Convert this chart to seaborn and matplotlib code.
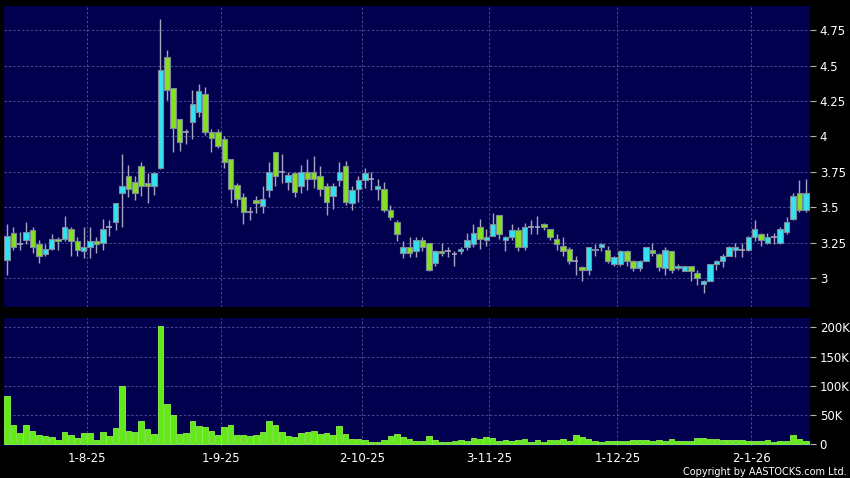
import numpy as np
import pandas as pd
import matplotlib
matplotlib.use("Agg")
import matplotlib.pyplot as plt
import seaborn as sns

# daily candles, mid-Jul 2025 to early Feb 2026
opens = [3.13, 3.32, 3.24, 3.27, 3.34, 3.24, 3.17, 3.21, 3.28, 3.28,
         3.35, 3.26, 3.19, 3.22, 3.26, 3.25, 3.36, 3.40, 3.60, 3.72,
         3.68, 3.79, 3.67, 3.65, 3.78, 4.56, 4.34, 4.12, 4.03, 4.10,
         4.17, 4.30, 4.03, 4.03, 3.98, 3.84, 3.66, 3.57, 3.47, 3.55,
         3.51, 3.62, 3.89, 3.75, 3.68, 3.74, 3.65, 3.75, 3.75, 3.72,
         3.65, 3.58, 3.69, 3.79, 3.53, 3.63, 3.69, 3.70, 3.63, 3.63,
         3.48, 3.40, 3.18, 3.22, 3.19, 3.27, 3.25, 3.11, 3.19, 3.19,
         3.17, 3.19, 3.22, 3.24, 3.36, 3.27, 3.30, 3.45, 3.27, 3.29,
         3.34, 3.22, 3.36, 3.36, 3.38, 3.35, 3.28, 3.23, 3.21, 3.12,
         3.08, 3.06, 3.20, 3.22, 3.20, 3.10, 3.10, 3.19, 3.12, 3.07,
         3.12, 3.20, 3.17, 3.07, 3.19, 3.07, 3.05, 3.09, 3.04, 2.96,
         2.98, 3.10, 3.12, 3.16, 3.20, 3.20, 3.20, 3.29, 3.31, 3.25,
         3.29, 3.25, 3.33, 3.42, 3.60, 3.48]
closes = [3.30, 3.22, 3.24, 3.33, 3.22, 3.16, 3.21, 3.28, 3.26, 3.36,
          3.26, 3.20, 3.22, 3.26, 3.24, 3.35, 3.36, 3.53, 3.65, 3.63,
          3.60, 3.65, 3.65, 3.74, 4.47, 4.33, 4.06, 3.96, 4.03, 4.23,
          4.32, 4.03, 3.99, 3.93, 3.82, 3.63, 3.56, 3.47, 3.47, 3.53,
          3.56, 3.75, 3.72, 3.75, 3.73, 3.61, 3.75, 3.70, 3.70, 3.63,
          3.54, 3.65, 3.75, 3.54, 3.62, 3.69, 3.74, 3.70, 3.65, 3.48,
          3.43, 3.31, 3.22, 3.18, 3.27, 3.22, 3.06, 3.19, 3.18, 3.19,
          3.17, 3.21, 3.27, 3.32, 3.28, 3.29, 3.38, 3.31, 3.29, 3.34,
          3.22, 3.36, 3.36, 3.36, 3.36, 3.29, 3.24, 3.19, 3.12, 3.12,
          3.06, 3.22, 3.21, 3.24, 3.12, 3.15, 3.19, 3.12, 3.07, 3.12,
          3.22, 3.18, 3.08, 3.20, 3.06, 3.09, 3.09, 3.05, 3.00, 2.98,
          3.10, 3.12, 3.16, 3.22, 3.22, 3.20, 3.29, 3.35, 3.27, 3.29,
          3.29, 3.35, 3.40, 3.58, 3.48, 3.60]
highs = [3.38, 3.36, 3.33, 3.40, 3.36, 3.27, 3.24, 3.31, 3.29, 3.44,
         3.36, 3.29, 3.36, 3.36, 3.29, 3.42, 3.41, 3.53, 3.88, 3.80,
         3.72, 3.82, 3.74, 3.75, 4.83, 4.61, 4.34, 4.12, 4.05, 4.33,
         4.37, 4.35, 4.05, 4.05, 4.00, 3.84, 3.67, 3.60, 3.50, 3.58,
         3.65, 3.82, 3.89, 3.88, 3.75, 3.75, 3.80, 3.84, 3.86, 3.79,
         3.67, 3.67, 3.82, 3.83, 3.65, 3.72, 3.78, 3.75, 3.70, 3.68,
         3.52, 3.41, 3.26, 3.29, 3.29, 3.29, 3.25, 3.20, 3.25, 3.22,
         3.19, 3.22, 3.32, 3.38, 3.42, 3.35, 3.46, 3.45, 3.30, 3.38,
         3.36, 3.39, 3.41, 3.44, 3.39, 3.35, 3.31, 3.29, 3.22, 3.16,
         3.09, 3.22, 3.24, 3.25, 3.23, 3.16, 3.20, 3.20, 3.13, 3.13,
         3.22, 3.25, 3.18, 3.22, 3.19, 3.10, 3.09, 3.09, 3.06, 2.99,
         3.10, 3.13, 3.17, 3.23, 3.25, 3.25, 3.30, 3.41, 3.32, 3.32,
         3.32, 3.36, 3.43, 3.60, 3.69, 3.70]
lows = [3.02, 3.20, 3.20, 3.24, 3.18, 3.11, 3.16, 3.20, 3.20, 3.26,
        3.16, 3.16, 3.14, 3.14, 3.18, 3.20, 3.30, 3.34, 3.36, 3.57,
        3.55, 3.58, 3.53, 3.59, 3.77, 4.26, 3.89, 3.90, 3.95, 3.98,
        4.14, 4.01, 3.89, 3.92, 3.78, 3.53, 3.51, 3.38, 3.41, 3.46,
        3.46, 3.57, 3.65, 3.67, 3.62, 3.57, 3.60, 3.62, 3.64, 3.58,
        3.45, 3.49, 3.65, 3.52, 3.48, 3.54, 3.64, 3.62, 3.55, 3.47,
        3.41, 3.26, 3.14, 3.15, 3.15, 3.19, 3.05, 3.09, 3.16, 3.15,
        3.09, 3.17, 3.20, 3.22, 3.21, 3.23, 3.30, 3.28, 3.19, 3.27,
        3.19, 3.20, 3.31, 3.31, 3.34, 3.27, 3.20, 3.16, 3.10, 3.02,
        2.98, 3.02, 3.16, 3.19, 3.11, 3.09, 3.09, 3.09, 3.05, 3.05,
        3.12, 3.16, 3.05, 3.02, 3.04, 3.06, 3.05, 2.98, 2.95, 2.90,
        2.98, 3.06, 3.08, 3.16, 3.15, 3.15, 3.19, 3.26, 3.23, 3.24,
        3.24, 3.24, 3.31, 3.41, 3.47, 3.47]
# volume in thousands of shares
volumes = [82.8, 32, 18.9, 33, 21.7, 16, 13.1, 12, 6.3, 21,
           16, 10.3, 18.9, 18.9, 7.4, 20.6, 13.1, 27.4, 98.9, 22.9,
           20.6, 38.9, 25.7, 17.7, 203, 69, 50.3, 17.1, 18.9, 38.9,
           30.3, 29.7, 21.7, 14.9, 29.1, 32, 14.9, 16, 13.1, 14.9,
           20, 38.9, 33, 20.6, 13.1, 12, 18.9, 20.6, 21.7, 17.7,
           18.9, 16, 30.3, 17.1, 8.6, 9.1, 6.3, 3.4, 4, 7.4,
           13.1, 17.1, 12, 9.1, 5.7, 4.6, 14.3, 6.9, 4, 4,
           4.6, 7.4, 5.7, 10.3, 9.1, 11.4, 10.3, 4.6, 6.3, 4.6,
           6.3, 9.1, 3.4, 6.3, 3.4, 6.3, 6.3, 8.6, 5.7, 14.9,
           12, 9.1, 4.6, 3.4, 4.6, 4.6, 4.6, 4.6, 6.3, 6.3,
           6.3, 4.6, 6.3, 4.6, 8, 4.6, 4.6, 4.6, 9.7, 9.7,
           8.6, 8, 6.9, 6.9, 7.4, 7.4, 5.7, 4.6, 5.7, 7.4,
           3.4, 5.7, 5.7, 14.9, 9.1, 5.7]

date_labels = ["1-8-25", "1-9-25", "2-10-25", "3-11-25", "1-12-25", "2-1-26"]
date_pos = [12.5, 33.5, 55.5, 75.5, 95.5, 116.5]
price_ticks = [3, 3.25, 3.5, 3.75, 4, 4.25, 4.5, 4.75]
price_labels = ["3", "3.25", "3.5", "3.75", "4", "4.25", "4.5", "4.75"]
vol_ticks = [0, 50, 100, 150, 200]
vol_labels = ["0", "50K", "100K", "150K", "200K"]

df = pd.DataFrame({"open": opens, "high": highs, "low": lows,
                   "close": closes, "volume": volumes})
df["i"] = np.arange(len(df))

BG = "#00004e"
UP = "#33e2f0"
DOWN = "#86e022"
WICK = "#a4a4bc"
GRID = "#4a4a8e"
VOL = "#62ea16"

sns.set_style("dark")
plt.rcParams["font.family"] = ["DejaVu Sans"]

fig = plt.figure(figsize=(8.5, 4.78), dpi=100, facecolor="black")
ax = fig.add_axes([4 / 850, 1 - 306.7 / 478, 806 / 850, 300.7 / 478])
axv = fig.add_axes([4 / 850, 1 - 446 / 478, 806 / 850, 127.7 / 478])

# volume bars
sns.barplot(data=df, x="i", y="volume", color=VOL, saturation=1, width=0.88,
            edgecolor="#8ff250", linewidth=0.6, ax=axv, native_scale=True)

# candles
w = 0.86
ax.vlines(df["i"], df["low"], df["high"], color=WICK, lw=1.0, zorder=2)
up = df["close"] > df["open"]
down = df["close"] < df["open"]
flat = df["close"] == df["open"]
for mask, col in [(up, UP), (down, DOWN)]:
    d = df[mask]
    ax.bar(d["i"], (d["close"] - d["open"]).abs(), bottom=d[["open", "close"]].min(axis=1),
           width=w, color=col, edgecolor="#7d8a9a", linewidth=0.8, zorder=3)
d = df[flat]
ax.hlines(d["close"], d["i"] - w / 2, d["i"] + w / 2, color=WICK, lw=1.2, zorder=3)

for a in (ax, axv):
    a.set_facecolor(BG)
    for s in a.spines.values():
        s.set_visible(False)
    a.set_xlim(-0.47, 125.66)
    a.set_xticks(date_pos)
    a.grid(True, axis="both", color=GRID, linestyle=(0, (2.5, 2)), lw=0.7)
    a.set_axisbelow(True)
    a.yaxis.tick_right()
    a.tick_params(axis="y", colors="#b0b0b0", labelcolor="white", length=4,
                  width=0.8, pad=3, labelsize=8.5, right=True, left=False)
    a.set_xlabel("")
    a.set_ylabel("")

ax.set_ylim(2.80, 4.92)
ax.set_yticks(price_ticks)
ax.set_yticklabels(price_labels)
ax.tick_params(axis="x", length=0, labelbottom=False)

axv.set_ylim(-3.4, 215.5)
axv.set_yticks(vol_ticks)
axv.set_yticklabels(vol_labels)
axv.set_xticklabels(date_labels)
axv.tick_params(axis="x", colors="#b0b0b0", labelcolor="white", length=3,
                width=0.8, pad=1.5, labelsize=8.5)

fig.text(0.996, 0.003, "Copyright by AASTOCKS.com Ltd.", color="white",
         fontsize=7, ha="right", va="bottom")

fig.savefig("out.png", dpi=100, facecolor="black")
